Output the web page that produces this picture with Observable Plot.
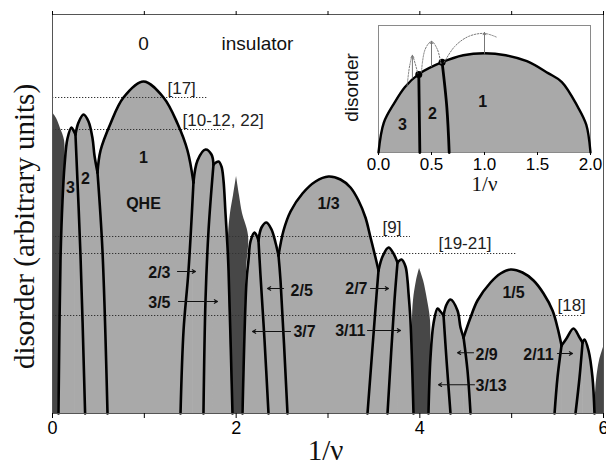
<!DOCTYPE html>
<html><head><meta charset="utf-8">
<script src="https://cdn.jsdelivr.net/npm/d3@7"></script>
<script src="https://cdn.jsdelivr.net/npm/@observablehq/plot@0.6"></script>
<style>
body{margin:0;background:#fff;}
#wrap{position:relative;width:606px;height:465px;}
#wrap svg{position:absolute;}
</style></head><body><div id="wrap"></div>
<script>
// ---------- main chart data (x = 1/nu, y = disorder, arbitrary units) ----------
const domeNames = ["3","2","1","2/3","3/5","3/7","2/5","1/3","2/7","3/11","3/13","2/9","1/5","2/11","3/17"];
const domeX = [
 [0.065,0.087,0.109,0.131,0.163,0.207,0.229,0.250],
 [0.250,0.283,0.338,0.392,0.436,0.457,0.490],
 [0.490,0.523,0.632,0.773,0.991,1.209,1.361,1.470,1.535],
 [1.535,1.579,1.666,1.731,1.753],
 [1.753,1.808,1.840,1.862,1.884,1.906,1.917,1.960],
 [2.069,2.113,2.134,2.156,2.200,2.222,2.243],
 [2.243,2.276,2.330,2.385,2.428,2.461],
 [2.461,2.516,2.592,2.722,2.864,3.006,3.136,3.245,3.332,3.408,3.463,3.517,3.550],
 [3.550,3.594,3.659,3.713,3.757],
 [3.757,3.801,3.844,3.866,3.877,3.898,3.931],
 [4.094,4.116,4.149,4.193,4.225,4.258],
 [4.258,4.291,4.334,4.410,4.443,4.476],
 [4.476,4.552,4.628,4.770,4.879,4.988,5.118,5.238,5.347,5.445,5.499,5.543],
 [5.543,5.597,5.673,5.739,5.772],
 [5.772,5.793,5.837,5.880,5.902]
];
const domeY = [
 [0,38.25,53.25,62,68.75,71.5,70.75,69.75],
 [69.75,72.75,74.75,73,68.75,64.5,60.25],
 [60.25,65.75,72.5,79,83,79,72.5,65.75,57.75],
 [57.75,63.25,66,64.75,62.25],
 [62.25,63,61.75,58.25,50,41.5,35.75,0],
 [0,33.25,38.25,43,45.25,44.5,43.25],
 [43.25,46.5,47.75,46,42.75,39.5],
 [39.5,45.75,50.5,55,58,59.25,58.5,56.5,53.25,49,44,39,35.75],
 [35.75,39.25,41.5,40,37.75],
 [37.75,38.5,36.75,33.25,30,23.25,0],
 [0,14,22.5,26.25,25.5,24.5],
 [24.5,27.25,28.5,25.75,21.5,19],
 [19,24,28.25,32.75,35,36,35.25,33.25,30,25.75,21.5,17],
 [17,18.75,21.25,19,17.75],
 [17.75,18.5,15.75,9,0]
];
// phase boundaries from each cusp down to zero disorder
const boundX = [
 [0.250,0.305,0.355],
 [0.490,0.544,0.599],
 [1.535,1.481,1.427,1.394],
 [1.753,1.699,1.666,1.644],
 [2.243,2.265,2.309,2.352],
 [2.461,2.483,2.559],
 [3.550,3.528,3.430],
 [3.757,3.724,3.648],
 [4.258,4.291,4.334],
 [4.476,4.519,4.552],
 [5.543,5.499,5.467],
 [5.772,5.739,5.695]
];
const boundY = [
 [69.75,39.5,0],
 [60.25,40.75,0],
 [57.75,35.75,20.75,0],
 [62.25,45.75,28.25,0],
 [43.25,34.5,18.25,0],
 [39.5,33.25,0],
 [35.75,29.5,0],
 [37.75,28.25,0],
 [24.5,13.25,0],
 [19,10.75,0],
 [17,9,0],
 [17.75,9,0]
];
// dark spikes at even integers of 1/nu
const darkY = [
 [75.25,73.75,71.25,68.25,62,53.25,38.25,0],
 [59.25,54.5,50,44.5,35.75,0],
 [36.25,33.25,28.25,23.25,13.25,0],
 [16.5,13.25,8.25,0]
];
const darkX1 = [
 [0,0,0,0,0,0,0,0],
 [2.004,1.971,1.938,1.917,1.917,1.960],
 [3.997,3.964,3.931,3.920,3.920,3.931],
 [6,5.957,5.924,5.902]
];
const darkX2 = [
 [0,0.044,0.087,0.131,0.131,0.109,0.087,0.065],
 [2.004,2.036,2.069,2.134,2.113,2.069],
 [3.997,4.040,4.084,4.116,4.116,4.094],
 [6,6,6,6]
];
// experimental reference levels
const refLabels = ["[17]","[10-12, 22]","[9]","[19-21]","[18]"];
const refY = [79, 71, 44.25, 40, 24.5];
const refEnd = [1.688, 1.884, 3.898, 5.053, 5.782];
const refLabelX = [1.252, 1.416, 3.594, 4.203, 5.499];
const refLabelY = [81.25, 73.25, 46.5, 42.5, 27];
// labels
const topText = ["0","insulator"];
const topX = [0.991, 2.232];
const topY = [92.5, 92.5];
const stateText = ["1","QHE","3","2","1/3","1/5"];
const stateX = [0.991,0.991,0.196,0.359,3.006,5.020];
const stateY = [64,52.5,56.5,58.75,52.5,30.25];
const arrowText = ["2/3","3/5","2/5","3/7","2/7","3/11","2/9","3/13","2/11"];
const arrowTextX = [1.285,1.285,2.592,2.624,3.430,3.408,4.606,4.606,5.456];
const arrowTextY = [35.25,27.75,30.75,20.5,31.25,20.75,14.65,7,14.65];
const arrowSide = ["end","end","start","start","end","end","start","start","end"];
const arrowFrom = [1.361,1.372,2.516,2.592,3.463,3.430,4.585,4.595,5.499];
const arrowTo = [1.557,1.797,2.341,2.178,3.659,3.790,4.410,4.203,5.663];
const arrowY = [35.5,28,31.25,20.5,31.25,20.75,15.2,7.2,15];
const xTicks = [0,1,2,3,4,5,6];

// ---------- inset data ----------
const insetDomeX = [0,0.05,0.15,0.25,0.38,0.6,0.8,1.0,1.2,1.4,1.6,1.73,1.88,1.96,2.0];
const insetDomeY = [0,0.3,0.5,0.66,0.79,0.91,0.98,1.0,0.98,0.92,0.8,0.71,0.46,0.28,0];
const insetLineX = [[0.38,0.385,0.39],[0.60,0.645,0.667]];
const insetLineY = [[0.787,0.4,0],[0.91,0.45,0]];
const insetDotX = [0.38,0.60];
const insetDotY = [0.787,0.91];
const insetArrowX = [0.32,0.50,1.0];
const insetArrowY1 = [0.75,0.87,1.0];
const insetArrowY2 = [0.98,1.12,1.21];
const insetArcX = [[0.27,0.295,0.32,0.345,0.37],[0.405,0.44,0.50,0.555,0.59],[0.62,0.72,0.85,1.0,1.12]];
const insetArcY = [[0.67,0.88,0.97,0.9,0.8],[0.81,1.04,1.12,1.04,0.89],[0.91,1.07,1.17,1.2,1.16]];
const insetText = ["3","2","1"];
const insetTextX = [0.225,0.509,0.983];
const insetTextY = [0.278,0.394,0.51];
const insetTicks = [0,0.5,1,1.5,2];

// ---------- build tables ----------
const LIGHT = "#a9a9a9", DARK = "#474747";
const SANS = "Liberation Sans, Arial, Helvetica, sans-serif";
const SERIF = "Liberation Serif, Times New Roman, serif";
const flat = (xs, ys, name) => xs.flatMap((arr, i) => arr.map((x, j) => ({g: name ? name[i] : i, x, y: ys[i][j]})));
const domes = flat(domeX, domeY, domeNames);
const bounds = flat(boundX, boundY);
const darks = darkY.flatMap((arr, i) => arr.map((y, j) => ({g: i, y, x1: darkX1[i][j], x2: darkX2[i][j]})));
const refs = refLabels.map((t, i) => ({t, y: refY[i], x2: refEnd[i], lx: refLabelX[i], ly: refLabelY[i]}));
const tops = topText.map((t, i) => ({t, x: topX[i], y: topY[i]}));
const states = stateText.map((t, i) => ({t, x: stateX[i], y: stateY[i]}));
const arrs = arrowText.map((t, i) => ({t, tx: arrowTextX[i], ty: arrowTextY[i], side: arrowSide[i], x1: arrowFrom[i], x2: arrowTo[i], y: arrowY[i]}));

const main = Plot.plot({
  width: 606, height: 465,
  marginLeft: 52, marginRight: 3, marginTop: 14, marginBottom: 52,
  x: {domain: [0, 6]},
  y: {domain: [0, 99.75], axis: null},
  style: {fontFamily: SANS, background: "white", overflow: "visible"},
  marks: [
    Plot.areaY(domes, {x: "x", y1: 0, y2: "y", z: "g", fill: LIGHT, curve: "catmull-rom"}),
    Plot.areaX(darks, {y: "y", x1: "x1", x2: "x2", z: "g", fill: DARK, curve: "catmull-rom"}),
    Plot.ruleY(refs, {y: "y", x1: 0, x2: "x2", stroke: "#333", strokeWidth: 1, strokeDasharray: "1.3,1.7"}),
    Plot.line(bounds, {x: "x", y: "y", z: "g", stroke: "black", strokeWidth: 2.6, curve: "catmull-rom"}),
    Plot.line(domes, {x: "x", y: "y", z: "g", stroke: "black", strokeWidth: 2.6, curve: "catmull-rom"}),
    Plot.text(refs, {x: "lx", y: "ly", text: "t", textAnchor: "start", fontSize: 17, fill: "#222"}),
    Plot.text(tops, {x: "x", y: "y", text: "t", fontSize: 19, fill: "#111"}),
    Plot.text(states, {x: "x", y: "y", text: "t", fontSize: 16, fontWeight: "bold", fill: "#111"}),
    Plot.text(arrs.filter(d => d.side === "end"), {x: "tx", y: "ty", text: "t", textAnchor: "end", fontSize: 16, fontWeight: "bold", fill: "#111"}),
    Plot.text(arrs.filter(d => d.side === "start"), {x: "tx", y: "ty", text: "t", textAnchor: "start", fontSize: 16, fontWeight: "bold", fill: "#111"}),
    Plot.arrow(arrs, {x1: "x1", x2: "x2", y1: "y", y2: "y", stroke: "#111", strokeWidth: 1.1, headLength: 5}),
    Plot.frame({stroke: "#555", strokeWidth: 1}),
    Plot.axisX({anchor: "bottom", ticks: xTicks, tickFormat: d => d % 2 ? "" : String(d), tickSize: 5, tickPadding: 3, fontSize: 18, label: null}),
    Plot.axisX({anchor: "top", ticks: xTicks, tickFormat: () => "", tickSize: 4, label: null}),
    Plot.text(["1/ν"], {x: 2.973, y: 0, dy: 37, text: d => d, fontSize: 29, fontFamily: SERIF, fill: "#111"}),
    Plot.text(["disorder (arbitrary units)"], {x: 0, y: 46.75, dx: -28, text: d => d, rotate: -90, fontSize: 29, fontFamily: SERIF, fill: "#111"})
  ]
});
main.style.left = "0px"; main.style.top = "0px";

const insetDome = insetDomeX.map((x, i) => ({x, y: insetDomeY[i]}));
const insetLines = flat(insetLineX, insetLineY);
const insetDots = insetDotX.map((x, i) => ({x, y: insetDotY[i]}));
const insetArrows = insetArrowX.map((x, i) => ({x, y1: insetArrowY1[i], y2: insetArrowY2[i]}));
const insetArcs = flat(insetArcX, insetArcY);
const insetLabels = insetText.map((t, i) => ({t, x: insetTextX[i], y: insetTextY[i]}));

const inset = Plot.plot({
  width: 270, height: 185,
  marginLeft: 48, marginRight: 10, marginTop: 5, marginBottom: 53,
  x: {domain: [0, 2]},
  y: {domain: [0, 1.28], axis: null},
  style: {fontFamily: SANS, background: "transparent", overflow: "visible"},
  marks: [
    Plot.frame({fill: "white", stroke: "#8a8a8a", strokeWidth: 1}),
    Plot.areaY(insetDome, {x: "x", y1: 0, y2: "y", fill: LIGHT, curve: "catmull-rom"}),
    Plot.line(insetDome, {x: "x", y: "y", stroke: "black", strokeWidth: 2.4, curve: "catmull-rom"}),
    Plot.line(insetLines, {x: "x", y: "y", z: "g", stroke: "black", strokeWidth: 2.8, curve: "catmull-rom"}),
    Plot.dot(insetDots, {x: "x", y: "y", r: 3.5, fill: "black"}),
    Plot.line(insetArcs, {x: "x", y: "y", z: "g", stroke: "#777", strokeWidth: 1, strokeDasharray: "1.5,1.5", curve: "catmull-rom"}),
    Plot.arrow(insetArrows, {x1: "x", x2: "x", y1: "y1", y2: "y2", stroke: "#777", strokeWidth: 1, headLength: 4}),
    Plot.text(insetLabels, {x: "x", y: "y", text: "t", fontSize: 16, fontWeight: "bold", fill: "#111"}),
    Plot.axisX({ticks: insetTicks, tickFormat: d3.format(".1f"), tickSize: 3, tickPadding: 2, fontSize: 17, label: null}),
    Plot.text(["1/ν"], {x: 1.0, y: 0, dy: 32, text: d => d, fontSize: 21, fontFamily: SERIF, fill: "#111"}),
    Plot.text(["disorder"], {x: 0, y: 0.655, dx: -27, text: d => d, rotate: -90, fontSize: 19, fill: "#111"})
  ]
});
inset.style.left = "330px"; inset.style.top = "20px";

const wrap = document.getElementById("wrap");
wrap.appendChild(main);
wrap.appendChild(inset);
</script></body></html>
